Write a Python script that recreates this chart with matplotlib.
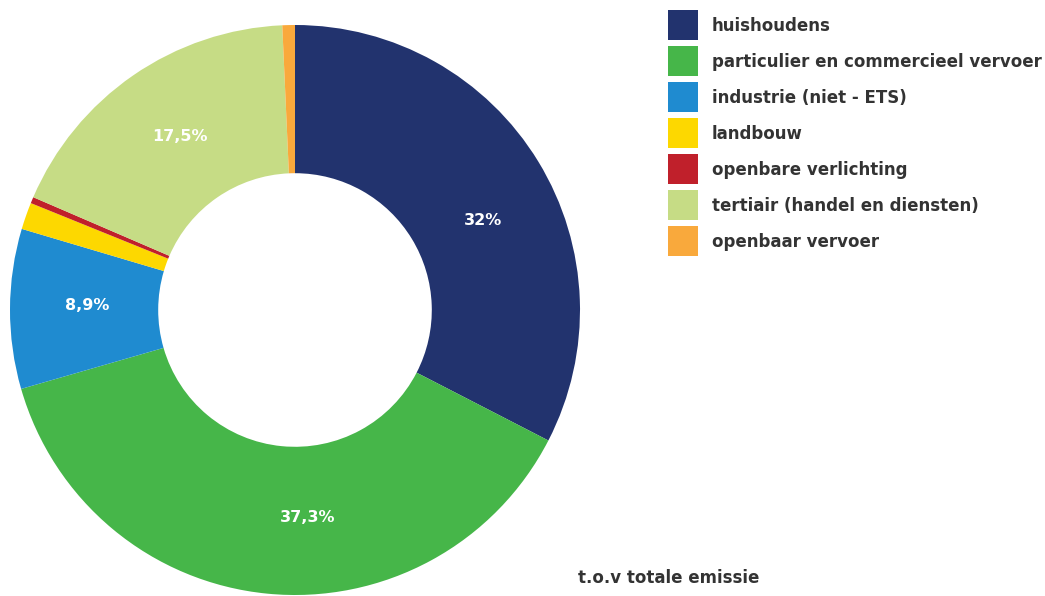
import numpy as np
import matplotlib.pyplot as plt
from matplotlib.patches import Rectangle

plt.rcParams['font.family'] = ['DejaVu Sans']

labels = ["huishoudens", "particulier en commercieel vervoer", "industrie (niet - ETS)",
          "landbouw", "openbare verlichting", "tertiair (handel en diensten)", "openbaar vervoer"]
values = [32, 37.3, 8.9, 1.5, 0.35, 17.5, 0.7]
pct_text = ["32%", "37,3%", "8,9%", "", "", "17,5%", ""]
colors = ["#22336e", "#46b649", "#1f8bd0", "#fdd800", "#c0202b", "#c6dc85", "#f9a93c"]

# the original labels sit a bit off the wedge middles
label_shift = [-6, 9, -1, 0, 0, -1, 0]

W, H = 1045, 596
fig = plt.figure(figsize=(W / 100, H / 100), dpi=100)

# donut axes: centre (295, 310) px, radius 285 px
cx, cy, r = 295, 310, 285
ax = fig.add_axes([(cx - r) / W, (H - cy - r) / H, 2 * r / W, 2 * r / H])
wedges, _ = ax.pie(values, colors=colors, startangle=90, counterclock=False,
                   radius=1, wedgeprops=dict(width=0.52, linewidth=0))
ax.set_xlim(-1, 1)
ax.set_ylim(-1, 1)
ax.set_aspect('equal')

for w, t, s in zip(wedges, pct_text, label_shift):
    if not t:
        continue
    mid = np.deg2rad((w.theta1 + w.theta2) / 2 + s)
    ax.text(0.73 * np.cos(mid), 0.73 * np.sin(mid), t, color="white",
            fontsize=11.5, fontweight="bold", ha="center", va="center")

# legend drawn by hand: 30px squares, 36px row pitch
for i, (lab, c) in enumerate(zip(labels, colors)):
    top = 10 + 36 * i
    fig.add_artist(Rectangle((668 / W, 1 - (top + 30) / H), 30 / W, 30 / H,
                             transform=fig.transFigure, facecolor=c, edgecolor="none"))
    fig.text(712 / W, 1 - (top + 16) / H, lab, fontsize=12, fontweight="bold",
             color="#333333", ha="left", va="center")

fig.text(578 / W, 1 - 578 / H, "t.o.v totale emissie", fontsize=12, fontweight="bold",
         color="#333333", ha="left", va="center")

fig.savefig("out.png", dpi=100)
